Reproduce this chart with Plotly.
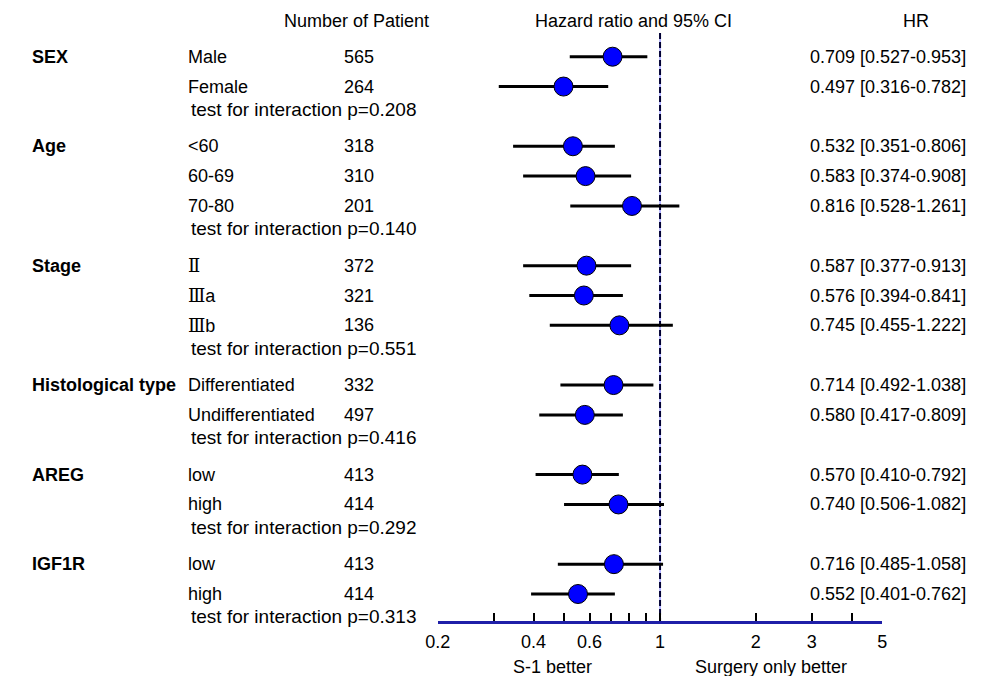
import math
import plotly.graph_objects as go

# ---------------- data ----------------
groups = ["SEX", "Age", "Stage", "Histological type", "AREG", "IGF1R"]
subgroups = [
    ["Male", "Female"],
    ["<60", "60-69", "70-80"],
    ["Ⅱ", "Ⅲa", "Ⅲb"],
    ["Differentiated", "Undifferentiated"],
    ["low", "high"],
    ["low", "high"],
]
n_patients = [565, 264, 318, 310, 201, 372, 321, 136, 332, 497, 413, 414, 413, 414]
hr = [0.709, 0.497, 0.532, 0.583, 0.816, 0.587, 0.576, 0.745, 0.714, 0.580, 0.570, 0.740, 0.716, 0.552]
ci_low = [0.527, 0.316, 0.351, 0.374, 0.528, 0.377, 0.394, 0.455, 0.492, 0.417, 0.410, 0.506, 0.485, 0.401]
ci_high = [0.953, 0.782, 0.806, 0.908, 1.261, 0.913, 0.841, 1.222, 1.038, 0.809, 0.792, 1.082, 1.058, 0.762]
# whisker ends as drawn in the picture
bar_low = [0.520, 0.311, 0.345, 0.371, 0.522, 0.371, 0.388, 0.450, 0.486, 0.417, 0.406, 0.499, 0.477, 0.393]
bar_high = [0.912, 0.687, 0.721, 0.811, 1.150, 0.811, 0.764, 1.097, 0.953, 0.764, 0.742, 1.029, 1.022, 0.721]
p_interaction = ["0.208", "0.140", "0.551", "0.416", "0.292", "0.313"]

tick_vals = [0.2, 0.3, 0.4, 0.5, 0.6, 0.7, 0.8, 0.9, 1, 2, 3, 4, 5]
tick_text = ["0.2", "", "0.4", "", "0.6", "", "", "", "1", "2", "3", "", "5"]

# ---------------- layout constants ----------------
W, H = 985, 676
Y0 = 56.7
SLOT = 29.85
TEST_SHIFT = 7
FONT = "Liberation Sans, Arial, sans-serif"
ROMAN_FONT = "DejaVu Serif"
FS = 18

row_y, test_y, group_y = [], [], []
slot = 0
for g, subs in zip(groups, subgroups):
    group_y.append(Y0 + SLOT * slot)
    for s in subs:
        row_y.append(Y0 + SLOT * slot)
        slot += 1
    test_y.append(Y0 + SLOT * slot - TEST_SHIFT)
    slot += 1

AXIS_Y = 622
fig = go.Figure()

# whiskers
lx, ly = [], []
for lo, hi, y in zip(bar_low, bar_high, row_y):
    lx += [lo, hi, None]
    ly += [y, y, None]
fig.add_trace(go.Scatter(x=lx, y=ly, mode="lines",
                         line=dict(color="black", width=3), hoverinfo="skip"))
# markers
fig.add_trace(go.Scatter(x=hr, y=row_y, mode="markers",
                         marker=dict(size=19, color="#0000ff",
                                     line=dict(color="black", width=1)),
                         hoverinfo="skip"))

# reference line at HR = 1
fig.add_shape(type="line", xref="x", yref="y", x0=1, x1=1, y0=33, y1=AXIS_Y,
              line=dict(color="#7070ff", width=1), layer="below")
fig.add_shape(type="line", xref="x", yref="y", x0=1, x1=1, y0=33, y1=AXIS_Y,
              line=dict(color="#000033", width=2, dash="6px,3px"), layer="below")

ann = []
def txt(x, y, s, anchor="left", bold=False, size=FS):
    ann.append(dict(x=x / W, y=y, xref="paper", yref="y", text=(f"<b>{s}</b>" if bold else s),
                    showarrow=False, xanchor=anchor, yanchor="middle",
                    font=dict(family=FONT, size=size, color="black")))

def roman(s):
    out = ""
    for ch in s:
        if "\u2160" <= ch <= "\u217f":
            out += f'<span style="font-family:\'{ROMAN_FONT}\'">{ch}</span>'
        else:
            out += ch
    return out

txt(350, 21, "Number of Patient", "center")
txt(632, 21, "Hazard ratio and 95% CI", "center")
txt(920, 21, "HR", "center")

i = 0
for gi, (g, subs) in enumerate(zip(groups, subgroups)):
    txt(17, group_y[gi], g, bold=True)
    for s in subs:
        txt(176, row_y[i], roman(s))
        txt(335, row_y[i], str(n_patients[i]))
        txt(973, row_y[i], f"{hr[i]:.3f} [{ci_low[i]:.3f}-{ci_high[i]:.3f}]", "right")
        i += 1
    txt(179, test_y[gi], f"test for interaction p={p_interaction[gi]}", "left", size=19)

txt(550, 667, "S-1 better", "center")
txt(772, 667, "Surgery only better", "center")

fig.update_layout(
    width=W, height=H,
    margin=dict(l=0, r=0, t=0, b=0),
    paper_bgcolor="white", plot_bgcolor="white",
    showlegend=False,
    annotations=ann,
    xaxis=dict(type="log", range=[math.log10(0.2), math.log10(5)],
               domain=[432.7 / W, 885.5 / W],
               anchor="free", position=(H - AXIS_Y) / H,
               showgrid=False, zeroline=False,
               showline=True, linecolor="#1f1fa8", linewidth=2.5,
               ticks="inside", ticklen=8, tickwidth=1.5, tickcolor="black",
               ticklabelstandoff=3,
               tickvals=tick_vals, ticktext=tick_text,
               tickfont=dict(family=FONT, size=FS, color="black")),
    yaxis=dict(range=[H, 0], domain=[0, 1], visible=False,
               showgrid=False, zeroline=False),
)

fig.write_html("out.html", config={"displayModeBar": False},
               post_script="document.body.style.margin='0';")
